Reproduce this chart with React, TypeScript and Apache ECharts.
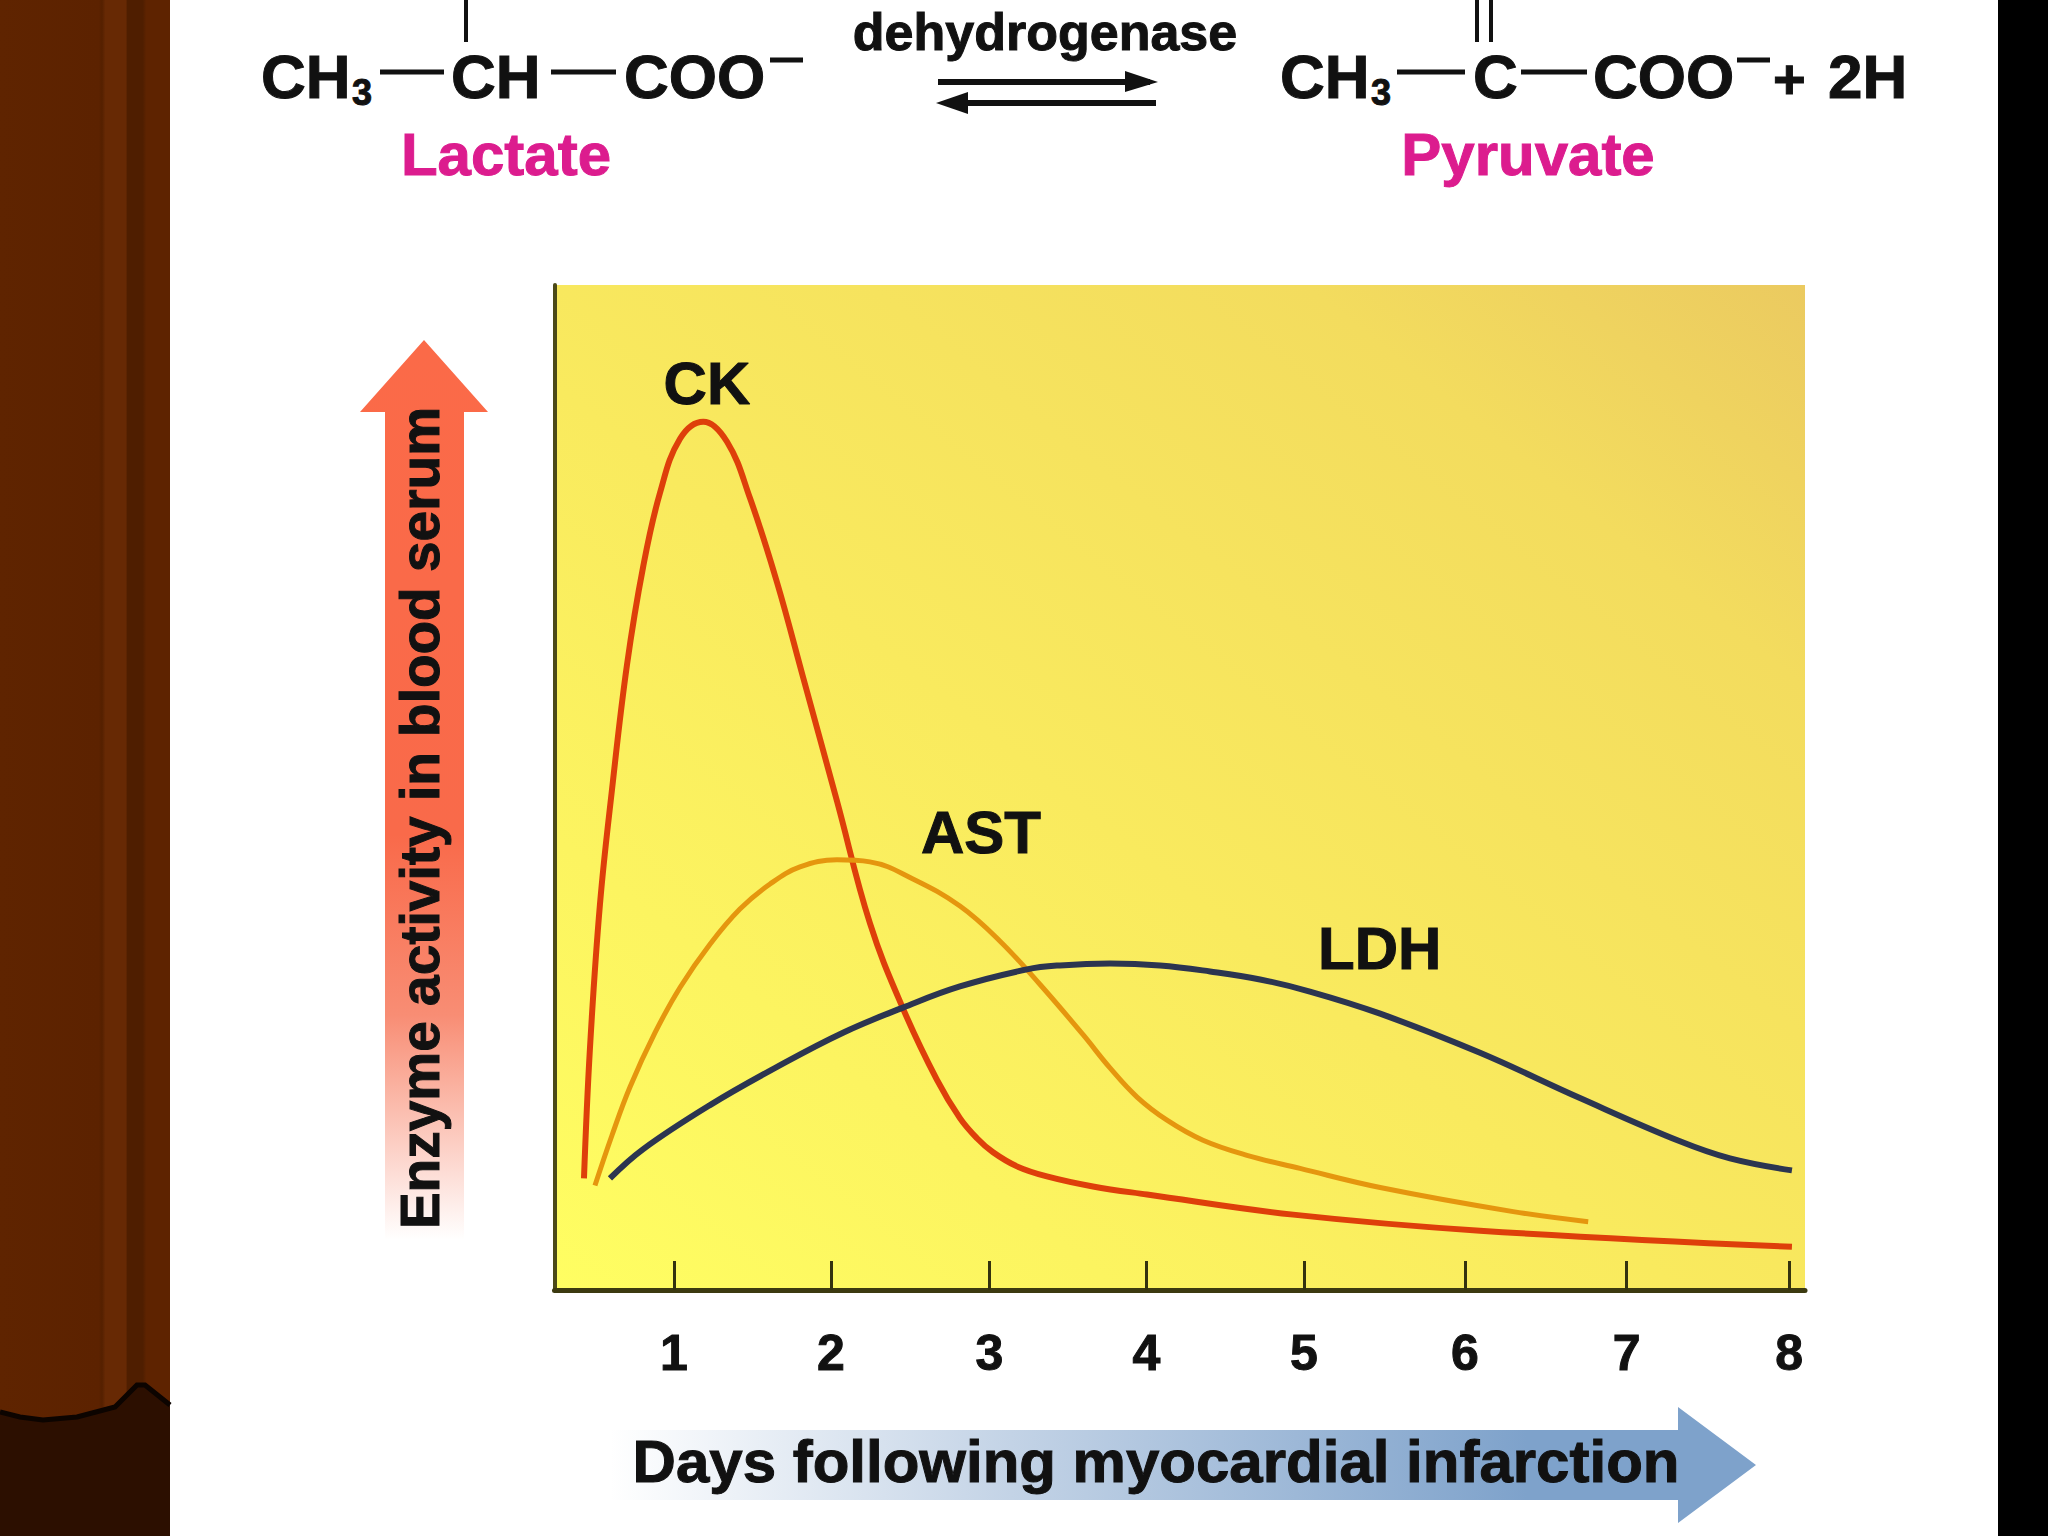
import React, { useEffect, useRef } from "react";
import * as echarts from "echarts";

const W = 2048;
const H = 1536;
const FONT = '"Liberation Sans", Arial, sans-serif';

const dayLabels = ["1", "2", "3", "4", "5", "6", "7", "8"];
const dayTicks = [1, 1.985, 2.98, 3.965, 4.955, 5.965, 6.98, 8];
const ckDays = [0.435, 0.472, 0.535, 0.611, 0.705, 0.807, 0.912, 1.038, 1.184, 1.333, 1.477, 1.647, 1.81, 2.024, 2.23, 2.438, 2.651, 2.795, 2.902, 3.003, 3.153, 3.341, 3.63, 3.97, 4.887, 6.06, 8.018];
const ckValues = [11.1, 23.9, 38.3, 49.8, 62.2, 72, 79.3, 84.7, 86.4, 84.4, 78.8, 70.4, 61, 48.6, 36.5, 28, 20.9, 17.1, 15.1, 13.7, 12.3, 11.3, 10.3, 9.5, 7.5, 5.9, 4.3];
const astDays = [0.504, 0.611, 0.724, 0.881, 1.038, 1.226, 1.414, 1.603, 1.791, 2.023, 2.23, 2.5, 2.795, 3.047, 3.298, 3.568, 3.737, 3.907, 4.095, 4.321, 4.597, 4.93, 5.433, 6.268, 6.739];
const astValues = [10.4, 15.4, 20.2, 25.6, 30.1, 34.4, 37.9, 40.4, 42.1, 42.8, 42.6, 40.9, 38.2, 34.7, 30.4, 25.4, 22.1, 19.2, 16.9, 14.9, 13.4, 12.1, 10.2, 7.8, 6.8];
const ldhDays = [0.598, 0.805, 1.226, 1.647, 2.061, 2.438, 2.795, 3.216, 3.423, 3.737, 4.051, 4.365, 4.679, 4.992, 5.433, 6.06, 6.687, 7.315, 7.629, 8.018];
const ldhValues = [11.1, 14, 18.4, 22.2, 25.6, 28.1, 30.2, 31.9, 32.3, 32.5, 32.3, 31.7, 30.9, 29.7, 27.5, 23.6, 19.1, 14.8, 13.1, 11.9];
const ckLabelAt = [1.207, 90.2];
const astLabelAt = [2.927, 45.5];
const ldhLabelAt = [5.43, 34];

const zip = (xs: number[], ys: number[]) => xs.map((x, i) => [x, ys[i]]);

const txt = (text: string, x: number, y: number, size: number, fill = "#111", rotation = 0, align = "center") => ({
  type: "text",
  x,
  y,
  rotation,
  silent: true,
  style: { text, fill, align, verticalAlign: "middle", font: `bold ${size}px ${FONT}`, stroke: fill, lineWidth: 1 },
});
const bond = (x1: number, y1: number, x2: number, y2: number, lineWidth = 4) => ({
  type: "line",
  silent: true,
  shape: { x1, y1, x2, y2 },
  style: { stroke: "#111", lineWidth },
});
const grad = (x: number, y: number, x2: number, y2: number, stops: [number, string][]) => ({
  type: "linear",
  x,
  y,
  x2,
  y2,
  colorStops: stops.map(([offset, color]) => ({ offset, color })),
});

const CURTAIN_EDGE = [[0, 1412], [20, 1417], [43, 1420], [77, 1417], [115, 1407], [137, 1385], [145, 1385], [170, 1405]];

function build() {
  const graphic: any[] = [
    {
      type: "rect",
      shape: { x: 0, y: 0, width: 170, height: H },
      silent: true,
      style: {
        fill: grad(0, 0, 1, 0, [[0, "#5f2400"], [0.58, "#5c2200"], [0.6, "#552000"], [0.62, "#672904"], [0.74, "#672904"], [0.75, "#4f1e00"], [0.84, "#4f1e00"], [0.86, "#5e2300"], [1, "#5e2300"]]),
      },
    },
    {
      type: "polygon",
      silent: true,
      shape: { points: [...CURTAIN_EDGE, [170, H], [0, H]] },
      style: { fill: "#2c0f00" },
    },
    { type: "polyline", silent: true, shape: { points: CURTAIN_EDGE }, style: { stroke: "#0c0400", lineWidth: 5, fill: "none" } },
    { type: "rect", silent: true, shape: { x: 1998, y: 0, width: 50, height: H }, style: { fill: "#000" } },
    // reaction row
    bond(466, 0, 466, 42),
    bond(1477, 0, 1477, 42),
    bond(1491, 0, 1491, 42),
    txt("CH", 261, 76, 62, "#111", 0, "left"),
    txt("3", 352, 92, 36, "#111", 0, "left"),
    bond(380, 72, 444, 72, 5),
    txt("CH", 451, 76, 62, "#111", 0, "left"),
    bond(551, 72, 616, 72, 5),
    txt("COO", 624, 76, 62, "#111", 0, "left"),
    bond(770, 60, 803, 60, 5),
    txt("dehydrogenase", 1045, 32, 52),
    bond(938, 82, 1150, 82, 6),
    { type: "polygon", silent: true, shape: { points: [[1125, 71], [1158, 82], [1125, 92]] }, style: { fill: "#111" } },
    bond(966, 103, 1156, 103, 6),
    { type: "polygon", silent: true, shape: { points: [[968, 92], [936, 103], [968, 114]] }, style: { fill: "#111" } },
    txt("CH", 1280, 76, 62, "#111", 0, "left"),
    txt("3", 1371, 92, 36, "#111", 0, "left"),
    bond(1397, 72, 1465, 72, 5),
    txt("C", 1473, 76, 62, "#111", 0, "left"),
    bond(1521, 72, 1587, 72, 5),
    txt("COO", 1593, 76, 62, "#111", 0, "left"),
    bond(1737, 60, 1770, 60, 5),
    txt("+", 1773, 78, 56, "#111", 0, "left"),
    txt("2H", 1828, 76, 62, "#111", 0, "left"),
    txt("Lactate", 506, 154, 60, "#dc1c8e"),
    txt("Pyruvate", 1528, 154, 60, "#dc1c8e"),
    // Axis arrows
    {
      type: "polygon",
      silent: true,
      shape: { points: [[424, 340], [488, 412], [464, 412], [464, 1240], [385, 1240], [385, 412], [360, 412]] },
      style: { fill: grad(0, 0, 0, 1, [[0, "#fb6a48"], [0.55, "#f96a4a"], [0.75, "#f88d74"], [1, "#ffffff"]]) },
    },
    txt("Enzyme activity in blood serum", 420, 818, 55, "#111", Math.PI / 2),
    {
      type: "polygon",
      silent: true,
      shape: { points: [[610, 1430], [1678, 1430], [1678, 1407], [1756, 1465], [1678, 1523], [1678, 1500], [610, 1500]] },
      style: { fill: grad(0, 0, 1, 0, [[0, "#ffffff"], [0.35, "#c3d3e6"], [0.8, "#7ea2cb"], [1, "#7ea2cb"]]) },
    },
    txt("Days following myocardial infarction", 1156, 1461, 60),
  ];

  const labelled = (name: string, data: number[][], color: string, at: number[], w: number) => ({
    name,
    type: "line",
    data,
    smooth: 0.4,
    showSymbol: false,
    symbol: "none",
    lineStyle: { color, width: w },
    markPoint: {
      silent: true,
      symbol: "circle",
      symbolSize: 0,
      data: [{ coord: at, value: name }],
      label: {
        show: true,
        position: "inside",
        formatter: name,
        color: "#111",
        fontFamily: FONT,
        fontWeight: "bold",
        fontSize: 60,
        textBorderColor: "#111",
        textBorderWidth: 1,
      },
    },
  });

  return {
    animation: false,
    backgroundColor: "#ffffff",
    graphic,
    grid: {
      show: true,
      left: 554.5,
      right: 243,
      top: 285,
      height: 1005,
      borderWidth: 0,
      backgroundColor: grad(0, 1, 1, 0, [[0, "#fffe62"], [0.45, "#f9ea5e"], [0.8, "#f3dc5e"], [1, "#ebca60"]]),
    },
    xAxis: {
      type: "value",
      min: 0.25,
      max: 8.1,
      splitLine: { show: false },
      axisLine: { show: true, onZero: false, lineStyle: { color: "#3c3a10", width: 5 } },
      axisTick: { show: true, inside: true, length: 29, customValues: dayTicks, lineStyle: { color: "#33320f", width: 3 } },
      axisLabel: {
        show: true,
        margin: 38,
        customValues: dayTicks,
        formatter: (v: number) => dayLabels[Math.round(v) - 1],
        color: "#111",
        fontFamily: FONT,
        fontWeight: "bold",
        fontSize: 50,
        textBorderColor: "#111",
        textBorderWidth: 1,
      },
    },
    yAxis: {
      type: "value",
      min: 0,
      max: 100,
      splitLine: { show: false },
      axisTick: { show: false },
      axisLabel: { show: false },
      axisLine: { show: true, onZero: false, lineStyle: { color: "#4c4a18", width: 4 } },
    },
    series: [
      labelled("CK", zip(ckDays, ckValues), "#de3f0a", ckLabelAt, 6),
      labelled("AST", zip(astDays, astValues), "#e5960e", astLabelAt, 5),
      labelled("LDH", zip(ldhDays, ldhValues), "#2c3550", ldhLabelAt, 6),
    ],
  };
}

export default function App() {
  const ref = useRef<HTMLDivElement>(null);
  useEffect(() => {
    document.body.style.margin = "0";
    const chart = echarts.init(ref.current!, undefined, { renderer: "svg" });
    chart.setOption(build() as any);
    return () => chart.dispose();
  }, []);
  return <div ref={ref} style={{ width: W, height: H }} />;
}
